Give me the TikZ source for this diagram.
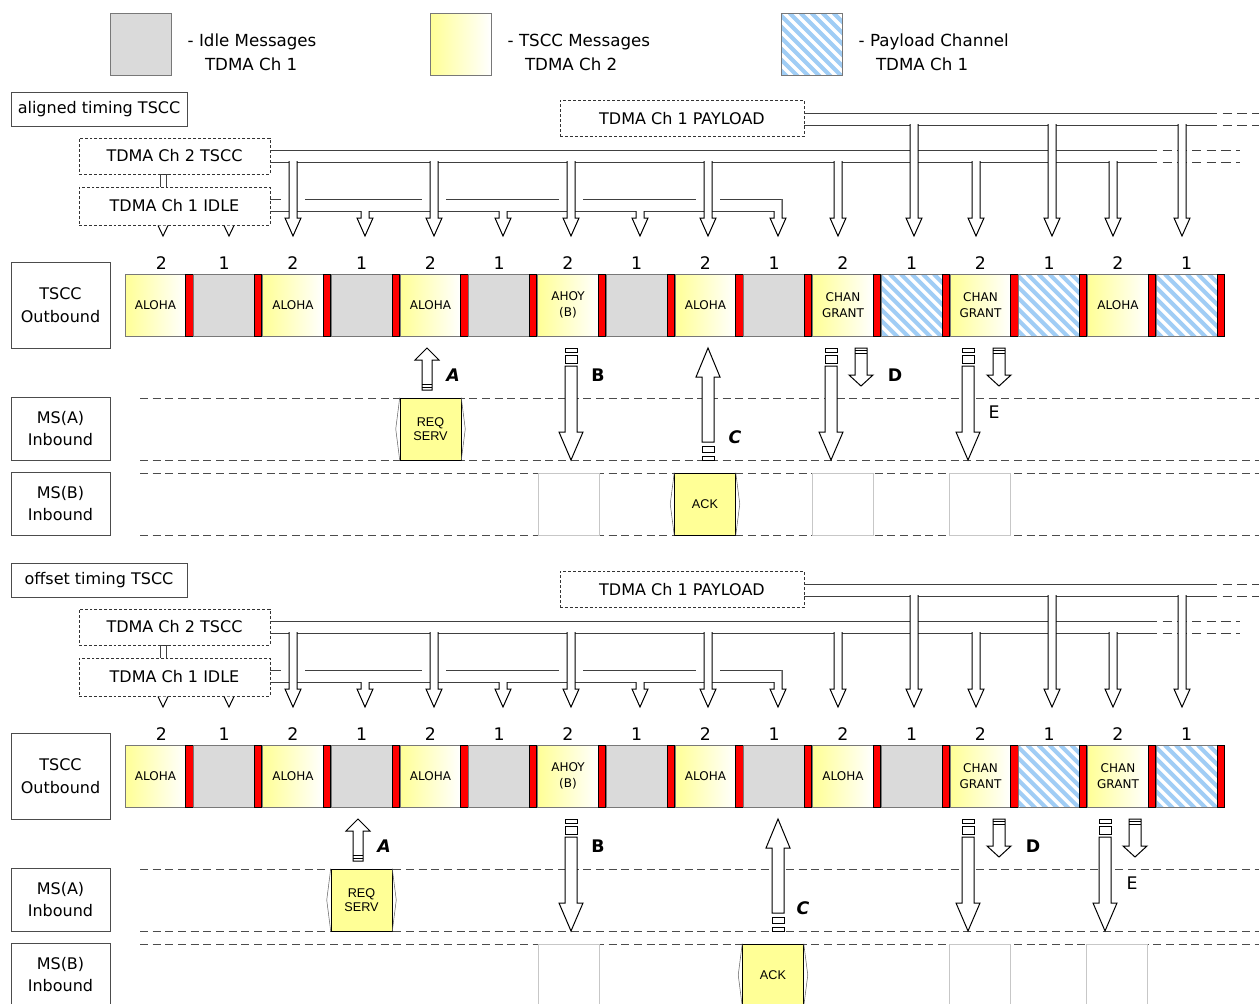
\documentclass[tikz,border=0pt]{standalone}
\usepackage{fontspec}
\setmainfont{DejaVu Sans}
\newfontfamily\arialfont{Liberation Sans}
\usetikzlibrary{positioning}

\definecolor{idlegray}{RGB}{218,218,218}
\definecolor{tsccyellow}{RGB}{255,255,150}
\definecolor{payblue}{RGB}{160,205,245}
\definecolor{framegray}{RGB}{120,120,120}

\tikzset{
  every node/.style={font=\fontsize{12pt}{17pt}\selectfont},
  slotbase/.style={minimum width=45.75pt, minimum height=46.5pt, inner sep=0pt, outer sep=0pt,
    draw=framegray, line width=0.75pt, align=center, font=\fontsize{9pt}{12pt}\selectfont},
  aloha/.style={slotbase, left color=tsccyellow, right color=white},
  idle/.style={slotbase, fill=idlegray},
  payload/.style={slotbase, fill=white, path picture={
      \foreach \k in {-9,...,4}
        \draw[payblue, line width=3pt] ([xshift=\k*8.25pt]path picture bounding box.north) -- ++(50pt,-50pt);}},
  redbar/.style={draw=black, fill=red, minimum width=5.4pt, minimum height=46.5pt, inner sep=0pt, outer sep=0pt, line width=0.6pt},
  tag/.style={draw=black!70, fill=white, line width=0.75pt, inner sep=0pt, align=center},
  chanbox/.style={draw=black!80, fill=white, dash pattern=on 2.2pt off 1.5pt, line width=0.6pt,
    minimum width=143.25pt, minimum height=27pt, inner sep=0pt},
  pipeline/.style={draw=black!75, line width=0.75pt},
  pipedash/.style={dash pattern=on 7pt off 4pt},
  lane/.style={draw=black!70, line width=0.75pt, dash pattern=on 6pt off 3.5pt},
  arrline/.style={draw=black, line width=0.75pt, line join=miter},
  msgbox/.style={draw=black, fill=tsccyellow, minimum width=45.75pt, minimum height=46.5pt, inner sep=0pt,
    align=center, font=\arialfont\fontsize{9.5pt}{11pt}\selectfont},
  ghost/.style={draw=black!22, fill=white, minimum width=45.75pt, minimum height=46.5pt, inner sep=0pt},
  chev/.style={draw=black!60, line width=0.4pt},
  letter/.style={font=\fontsize{13pt}{15pt}\selectfont\bfseries},
  num/.style={font=\fontsize{13pt}{15pt}\selectfont},
  keytext/.style={align=left, font=\fontsize{12.5pt}{18pt}\selectfont}
}

% feed arrow from a pipe down to the slot row
\newcommand\feed[2]{\draw[arrline, fill=white] (#1-4,#2) -- (#1-4,218) -- (#1-8,218) -- (#1,236) -- (#1+8,218) -- (#1+4,218) -- (#1+4,#2);}
% MS arrows
\newcommand\reqarrow[1]{%
  \draw[arrline, fill=white] (#1-5,390) -- (#1-5,360) -- (#1-12,360) -- (#1,348) -- (#1+12,360) -- (#1+5,360) -- (#1+5,390) -- cycle;
  \draw[arrline] (#1-5,384) -- (#1+5,384) (#1-5,387) -- (#1+5,387);}
\newcommand\ackarrow[1]{%
  \draw[arrline, fill=white] (#1-6,456.5) rectangle (#1+6,460);
  \draw[arrline, fill=white] (#1-6,446.5) rectangle (#1+6,452.5);
  \draw[arrline, fill=white] (#1-6,442) -- (#1-6,377) -- (#1-12,377) -- (#1,348) -- (#1+12,377) -- (#1+6,377) -- (#1+6,442) -- cycle;}
\newcommand\grantarrow[1]{%
  \draw[arrline, fill=white] (#1-6,348) rectangle (#1+6,352);
  \draw[arrline, fill=white] (#1-6,355) rectangle (#1+6,363);
  \draw[arrline, fill=white] (#1-6,366) -- (#1-6,432) -- (#1-12,432) -- (#1,460) -- (#1+12,432) -- (#1+6,432) -- (#1+6,366) -- cycle;}
\newcommand\shortdown[1]{%
  \draw[arrline, fill=white] (#1-6,348) -- (#1-6,375) -- (#1-12,375) -- (#1,386) -- (#1+12,375) -- (#1+6,375) -- (#1+6,348) -- cycle;
  \draw[arrline] (#1-6,350.5) -- (#1+6,350.5) (#1-6,353) -- (#1+6,353);}

% one timing block: #1 prefix, #2 title, #3 slot list
\newcommand\timingframe[3]{%
  % titles and channel boxes
  \node[tag, minimum width=132pt, minimum height=25.5pt] (#1title) at (99,109) {#2};
  \node[chanbox, minimum width=183pt] (#1pay) at (682,118.5) {TDMA Ch 1 PAYLOAD};
  \node[chanbox] (#1tscc) at (174.5,156) {TDMA Ch 2 TSCC};
  \node[chanbox, minimum height=28.5pt] (#1idle) at (174.5,206) {TDMA Ch 1 IDLE};
  \draw[pipeline] (160,187) -- (160,174) -- (163,174) (166,187) -- (166,174) -- (169,174);
  % pipes
  \draw[pipeline] (804,113) -- (1208,113) (804,125) -- (1208,125);
  \draw[pipeline, pipedash] (1208,113) -- (1259,113) (1208,125) -- (1259,125);
  \draw[pipeline] (270,150) -- (1148,150) (270,162) -- (1148,162);
  \draw[pipeline, pipedash] (1148,150) -- (1240,150) (1148,162) -- (1240,162);
  \draw[pipeline] (270,199) -- (782,199) (270,211) -- (774,211);
  \foreach \x in {293,434,571,708} {\fill[white] (\x-12,197.5) rectangle (\x+12,200.5);}
  % feed arrows
  \foreach \x in {163,229} {\draw[arrline, fill=white] (\x-5,225.5) -- (\x,236) -- (\x+5,225.5);}
  \foreach \x in {365,503,640} {\feed{\x}{211}}
  \draw[arrline, fill=white] (774,211) -- (774,218) -- (770,218) -- (778,236) -- (786,218) -- (782,218) -- (782,199);
  \foreach \x in {293,434,571,708,838,976,1113} {\feed{\x}{161}}
  \foreach \x in {914,1052,1182} {\feed{\x}{124}}
  % slot row
  \foreach \s/\t [count=\i from 0] in {#3} {
    \node[\s, anchor=north west] (#1s\i) at ({125+68.75*\i},274) {\t};
    \node[redbar, anchor=north west] (#1r\i) at ({185.75+68.75*\i},274) {};
  }
  \foreach \i in {0,...,15} {
    \pgfmathtruncatemacro\slotnum{2-mod(\i,2)}
    \pgfmathsetmacro\slotx{155.4+68.75*\i+6*(\i==0)}
    \node[num] (#1n\i) at (\slotx,263) {\slotnum};
  }
  % side labels and lanes
  \node[tag, minimum width=74.25pt, minimum height=64.5pt] (#1out) at (60.5,305) {TSCC\\Outbound};
  \node[tag, minimum width=74.25pt, minimum height=47.25pt] (#1msa) at (60.5,428.5) {MS(A)\\Inbound};
  \node[tag, minimum width=74.25pt, minimum height=47.25pt] (#1msb) at (60.5,503.5) {MS(B)\\Inbound};
  \draw[lane] (140,398) -- (1259,398) (140,460) -- (1259,460) (140,473) -- (1259,473) (140,535) -- (1259,535);
}

\begin{document}
\begin{tikzpicture}[x=0.75pt, y=-0.75pt]
  \useasboundingbox (0,0) rectangle (1259,1003);
  \clip (0,0) rectangle (1259,1003);
  \fill[white] (0,0) rectangle (1259,1003);

  % key
  \node[idle] (keyidle) at (140.5,44) {};
  \node[keytext, right=9pt of keyidle, yshift=-6pt] (keyidletxt) {- Idle Messages\\\hspace*{13pt}TDMA Ch 1};
  \node[aloha] (keytscc) at (460.5,44) {};
  \node[keytext, right=9pt of keytscc, yshift=-6pt] (keytscctxt) {- TSCC Messages\\\hspace*{13pt}TDMA Ch 2};
  \node[payload] (keypay) at (811.5,44) {};
  \node[keytext, right=9pt of keypay, yshift=-6pt] (keypaytxt) {- Payload Channel\\\hspace*{13pt}TDMA Ch 1};

  % aligned timing
  \begin{scope}
    \timingframe{a}{aligned timing TSCC}{aloha/ALOHA, idle/{}, aloha/ALOHA, idle/{}, aloha/ALOHA, idle/{}, aloha/{AHOY\\(B)}, idle/{}, aloha/ALOHA, idle/{}, aloha/{CHAN\\GRANT}, payload/{}, aloha/{CHAN\\GRANT}, payload/{}, aloha/ALOHA, payload/{}}
    \foreach \x [count=\j] in {568.5,842.5,979.5} {\node[ghost] (ag\j) at (\x,504) {};}
    \reqarrow{427}
    \grantarrow{571}
    \ackarrow{708}
    \grantarrow{831} \shortdown{861}
    \grantarrow{968} \shortdown{999}
    \node[letter] (aA) at (453,375) {\itshape A};
    \node[letter] (aB) at (598,375) {B};
    \node[letter] (aC) at (735,437) {\itshape C};
    \node[letter] (aD) at (895,375) {D};
    \node[num] (aE) at (994,412) {E};
    \node[msgbox] (areq) at (430.5,429) {REQ\\SERV};
    \node[msgbox] (aack) at (705,504) {ACK};
    \draw[chev] (areq.north west) -- ([xshift=-3pt]areq.west) -- (areq.south west)
                (areq.north east) -- ([xshift=3pt]areq.east) -- (areq.south east);
    \draw[chev] (aack.north west) -- ([xshift=-3pt]aack.west) -- (aack.south west)
                (aack.north east) -- ([xshift=3pt]aack.east) -- (aack.south east);
  \end{scope}

  % offset timing
  \begin{scope}[shift={(0,471)}]
    \timingframe{b}{offset timing TSCC}{aloha/ALOHA, idle/{}, aloha/ALOHA, idle/{}, aloha/ALOHA, idle/{}, aloha/{AHOY\\(B)}, idle/{}, aloha/ALOHA, idle/{}, aloha/ALOHA, idle/{}, aloha/{CHAN\\GRANT}, payload/{}, aloha/{CHAN\\GRANT}, payload/{}}
    \foreach \x [count=\j] in {568.5,979.5,1116.5} {\node[ghost] (bg\j) at (\x,504) {};}
    \reqarrow{358}
    \grantarrow{571}
    \ackarrow{778}
    \grantarrow{968} \shortdown{999}
    \grantarrow{1105} \shortdown{1135}
    \node[letter] (bA) at (384,375) {\itshape A};
    \node[letter] (bB) at (598,375) {B};
    \node[letter] (bC) at (803,437) {\itshape C};
    \node[letter] (bD) at (1033,375) {D};
    \node[num] (bE) at (1132,412) {E};
    \node[msgbox] (breq) at (361.5,429) {REQ\\SERV};
    \node[msgbox] (back) at (773,504) {ACK};
    \draw[chev] (breq.north west) -- ([xshift=-3pt]breq.west) -- (breq.south west)
                (breq.north east) -- ([xshift=3pt]breq.east) -- (breq.south east);
    \draw[chev] (back.north west) -- ([xshift=-3pt]back.west) -- (back.south west)
                (back.north east) -- ([xshift=3pt]back.east) -- (back.south east);
  \end{scope}
\end{tikzpicture}
\end{document}
